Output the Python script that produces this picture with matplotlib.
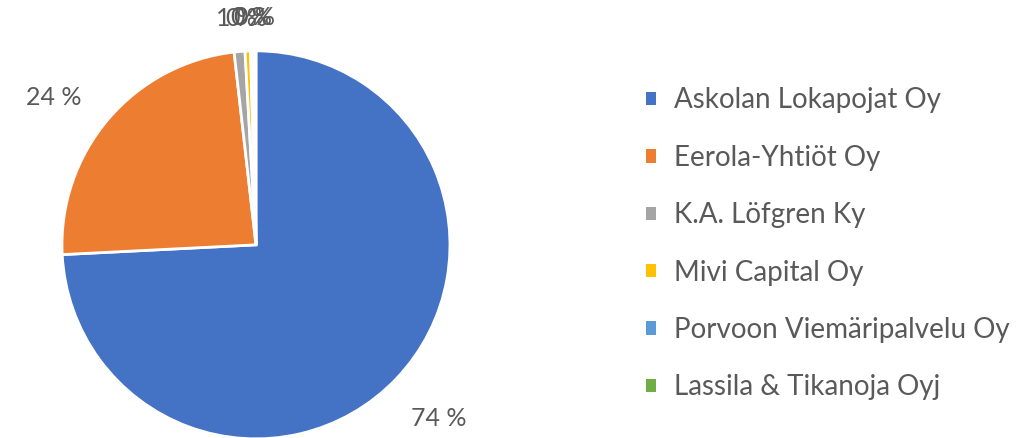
import matplotlib
matplotlib.use('Agg')
import matplotlib.pyplot as plt
from matplotlib.patches import Patch

companies = ['Askolan Lokapojat Oy', 'Eerola-Yhtiöt Oy', 'K.A. Löfgren Ky',
             'Mivi Capital Oy', 'Porvoon Viemäripalvelu Oy', 'Lassila & Tikanoja Oyj']
shares = [74.2, 24.0, 0.9, 0.45, 0.25, 0.2]
pct_labels = ['74 %', '24 %', '1 %', '0 %', '0 %', '0 %']
colors = ['#4472C4', '#ED7D31', '#A5A5A5', '#FFC000', '#5B9BD5', '#70AD47']

txt = '#595959'
plt.rcParams['font.family'] = ['Lato', 'DejaVu Sans']

fig = plt.figure(figsize=(10.33, 4.38), dpi=100)
ax = fig.add_axes([0.06, -0.002, 0.3756, 0.886])

wedges, texts = ax.pie(shares, colors=colors, startangle=90, counterclock=False,
                       labels=pct_labels, labeldistance=1.3,
                       wedgeprops=dict(edgecolor='white', linewidth=2),
                       textprops=dict(color=txt, fontsize=18))
for t in texts:
    t.set_clip_on(False)
    t.set_horizontalalignment('center')
    t.set_verticalalignment('center')
# the tiny slices at the top sit a little closer to the pie
for t in texts[2:]:
    x, y = t.get_position()
    t.set_position((x * 0.9, y * 0.9))
x, y = texts[1].get_position()
texts[1].set_position((x * 1.05, y * 0.9))
ax.set_xlim(-1, 1)
ax.set_ylim(-1, 1)
ax.set_aspect('equal')

handles = [Patch(facecolor=c, edgecolor='none') for c in colors]
fig.legend(handles, companies, loc='center left', bbox_to_anchor=(0.615, 0.443),
           frameon=False, fontsize=20, labelcolor=txt,
           handlelength=0.36, handleheight=0.36, handletextpad=0.65,
           labelspacing=1.13, borderaxespad=0)

fig.savefig('out.png', dpi=100)
